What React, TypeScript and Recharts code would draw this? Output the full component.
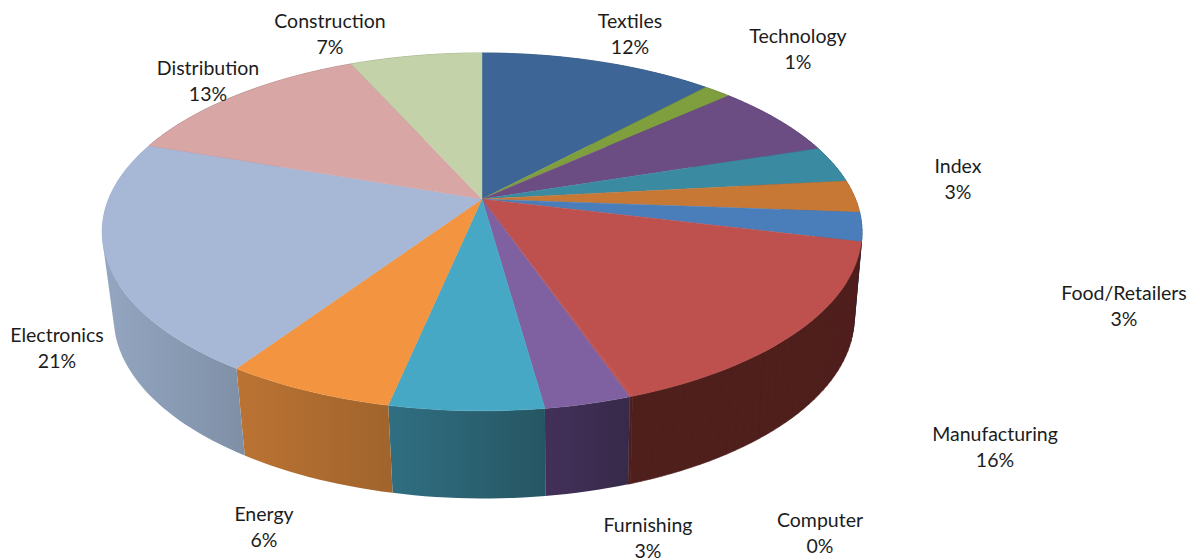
import { PieChart, Pie } from "recharts";

const categories = [
  "Textiles", "Technology", "", "Index", "Food/Retailers", "", "Manufacturing",
  "Computer", "Furnishing", "", "Energy", "Electronics", "Distribution", "Construction",
];
const shares = [11.9, 1.4, 6.7, 3.3, 2.9, 2.6, 15.8, 0.1, 3.1, 5.5, 6.1, 20.9, 13, 6.7];
const topColors = [
  "#3d6697", "#7f9e3e", "#6b4c83", "#3a8aa1", "#c87835", "#4a7ebb", "#be504d",
  "#be504d", "#7f60a0", "#47a8c5", "#f29440", "#a7b7d6", "#d7a6a5", "#c3d2a9",
];
const wallLeft = [
  "#2a4569", "#56702a", "#4a3359", "#27606f", "#8b5325", "#335781", "#4f1f1c",
  "#4f1f1c", "#43305a", "#306f82", "#bb7333", "#95a6c2", "#96716f", "#87926f",
];
const wallRight = [
  "#2a4569", "#56702a", "#4a3359", "#27606f", "#8b5325", "#335781", "#4f1f1c",
  "#4f1f1c", "#372a49", "#265663", "#a0642c", "#7e8fa6", "#96716f", "#87926f",
];

// label centre per category (x, first line y)
const labelSpots: Record<string, [number, number]> = {
  Textiles: [630, 21],
  Technology: [798, 36],
  Index: [958, 166],
  "Food/Retailers": [1124, 293],
  Manufacturing: [995, 434],
  Computer: [820, 520],
  Furnishing: [648, 525],
  Energy: [264, 514],
  Electronics: [57, 335],
  Distribution: [208, 68],
  Construction: [330, 21],
};

const data = categories.map((name, i) => ({
  name,
  value: shares[i],
  fill: topColors[i],
  wallA: wallLeft[i],
  wallB: wallRight[i],
}));

// perspective of the tilted disc
const TILT = 0.184;
const Y_RATIO = 172.9 / 373.5;
const BOTTOM = { scale: 364 / 373.5, yRatio: 175 / 373.5, drop: 85, shift: 2 };

// math angle in degrees -> screen point, squeezed by the perspective
function rimPoint(cx: number, cy: number, r: number, angle: number, yRatio: number, scale = 1) {
  const rad = (angle * Math.PI) / 180;
  const u = Math.cos(rad);
  const v = Math.sin(rad);
  const w = 1 + TILT * v;
  return [cx + (r * scale * u) / w, cy - (r * yRatio * v) / w];
}

function arc(startAngle: number, endAngle: number) {
  const steps = Math.max(2, Math.ceil(Math.abs(endAngle - startAngle) / 1.5));
  const out: number[] = [];
  for (let i = 0; i <= steps; i++) out.push(startAngle + ((endAngle - startAngle) * i) / steps);
  return out;
}

const fmt = (p: number[]) => `${p[0].toFixed(2)},${p[1].toFixed(2)}`;

function TopFace(props: any) {
  const { cx, cy, outerRadius, startAngle, endAngle, fill } = props;
  const pts = arc(startAngle, endAngle).map((a) => rimPoint(cx, cy, outerRadius, a, Y_RATIO));
  const d = `M${cx},${cy} ` + pts.map((p) => `L${fmt(p)}`).join(" ") + " Z";
  return <path d={d} fill={fill} stroke={fill} strokeWidth={0.4} />;
}

function signedArea(q: number[][]) {
  let s = 0;
  q.forEach((p, i) => {
    const n = q[(i + 1) % q.length];
    s += p[0] * n[1] - n[0] * p[1];
  });
  return s;
}

function Wall(props: any) {
  const { cx, cy, outerRadius, startAngle, endAngle, wallA, wallB, name, value } = props;
  const angles = arc(startAngle, endAngle);
  const upper = angles.map((a) => rimPoint(cx, cy, outerRadius, a, Y_RATIO));
  const lower = angles.map((a) => {
    const p = rimPoint(cx, cy, outerRadius, a, BOTTOM.yRatio, BOTTOM.scale);
    return [p[0] + BOTTOM.shift, p[1] + BOTTOM.drop];
  });
  // one quad per step, all wound the same way so the nonzero fill keeps the silhouette
  let d = "";
  for (let i = 0; i < angles.length - 1; i++) {
    let q = [upper[i], upper[i + 1], lower[i + 1], lower[i]];
    if (signedArea(q) < 0) q = q.slice().reverse();
    d += `M${q.map(fmt).join(" L")} Z `;
  }
  // flat walls can take a hairline stroke, it closes the seam beside the 0% slice
  if (wallA === wallB) return <path d={d} fill={wallA} stroke={wallA} strokeWidth={0.6} />;
  const id = `wall-${name || "x"}-${value}`.replace(/[^a-zA-Z0-9-]/g, "");
  return (
    <g>
      <defs>
        <linearGradient id={id} x1="0" y1="0" x2="1" y2="0">
          <stop offset="0%" stopColor={wallA} />
          <stop offset="100%" stopColor={wallB} />
        </linearGradient>
      </defs>
      <path d={d} fill={`url(#${id})`} />
    </g>
  );
}

function SliceLabel(props: any) {
  const { name, value } = props;
  const spot = labelSpots[name];
  if (!spot) return null;
  return (
    <text
      x={spot[0]}
      y={spot[1]}
      textAnchor="middle"
      fontFamily="Lato, sans-serif"
      fontSize={19.5}
      fill="#1c1c1c"
    >
      <tspan x={spot[0]} dy={6.5}>{name}</tspan>
      <tspan x={spot[0]} dy={26}>{Math.floor(value + 0.5)}%</tspan>
    </text>
  );
}

export default function App() {
  return (
    <div style={{ position: "absolute", left: 0, top: 0, width: 1189, height: 560, background: "#fff", overflow: "hidden" }}>
      <PieChart width={1189} height={560} margin={{ top: 0, right: 0, bottom: 0, left: 0 }}>
        <Pie
          data={data}
          dataKey="value"
          nameKey="name"
          cx={482}
          cy={199}
          outerRadius={373.5}
          startAngle={90}
          endAngle={-270}
          isAnimationActive={false}
          shape={Wall}
          label={false}
          labelLine={false}
        />
        <Pie
          data={data}
          dataKey="value"
          nameKey="name"
          cx={482}
          cy={199}
          outerRadius={373.5}
          startAngle={90}
          endAngle={-270}
          isAnimationActive={false}
          shape={TopFace}
          label={SliceLabel}
          labelLine={false}
        />
      </PieChart>
    </div>
  );
}
